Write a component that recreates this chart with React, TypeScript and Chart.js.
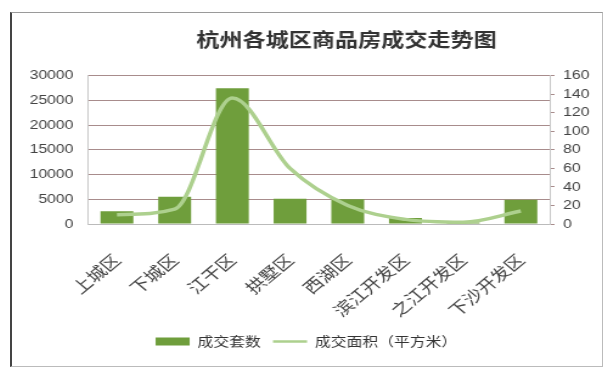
import React, { useEffect, useRef } from "react";
import { Chart, registerables } from "chart.js";

Chart.register(...registerables);

const chartTitle = "杭州各城区商品房成交走势图";
const categories = ["上城区", "下城区", "江干区", "拱墅区", "西湖区", "滨江开发区", "之江开发区", "下沙开发区"];
const barLabel = "成交套数";
const lineLabel = "成交面积（平方米）";
const dealCounts = [2600, 5500, 27500, 5100, 5000, 1200, 300, 4900];
const dealAreas = [10, 16, 136, 60, 20, 5, 2, 14];
const leftAxis = { min: 0, max: 30000, step: 5000 };
const rightAxis = { min: 0, max: 160, step: 20 };

const BAR_COLOR = "#6f9e3c";
const LINE_COLOR = "#add08e";
const GRID_COLOR = "#a88c8c";
const CJK = "'Noto Sans CJK SC', 'Noto Sans', sans-serif";
const NUM = "'Liberation Sans', Arial, sans-serif";

const INNER_W = 485;
const INNER_H = 353;
const CSS_W = 590;

const titleShift = {
  id: "titleShift",
  afterLayout(chart: any) {
    const t = chart.titleBlock;
    if (t) {
      t.left += 33;
      t.right += 33;
    }
  },
};

export default function App() {
  const ref = useRef<HTMLCanvasElement | null>(null);

  useEffect(() => {
    if (!ref.current) return;
    const chart = new Chart(ref.current, {
      type: "bar",
      data: {
        labels: categories,
        datasets: [
          {
            type: "bar",
            label: barLabel,
            data: dealCounts,
            backgroundColor: BAR_COLOR,
            borderWidth: 0,
            barPercentage: 0.57,
            categoryPercentage: 1,
            yAxisID: "y",
            order: 2,
          } as any,
          {
            type: "line",
            label: lineLabel,
            data: dealAreas,
            borderColor: LINE_COLOR,
            backgroundColor: LINE_COLOR,
            borderWidth: 3.5,
            pointRadius: 0,
            tension: 0.4,
            cubicInterpolationMode: "monotone",
            yAxisID: "y1",
            order: 1,
          } as any,
        ],
      },
      options: {
        responsive: false,
        animation: false,
        devicePixelRatio: 1,
        layout: { padding: { left: 2.4, right: 3.3, top: 0, bottom: 8 } },
        plugins: {
          title: {
            display: true,
            text: chartTitle,
            color: "#333333",
            font: { family: CJK, size: 19, weight: "bold" },
            padding: { top: 15, bottom: 25 },
          },
          legend: {
            position: "bottom",
            labels: {
              usePointStyle: true,
              pointStyleWidth: 28,
              boxHeight: 8,
              padding: 10,
              color: "#333333",
              font: { family: CJK, size: 13 },
              generateLabels: (c: any) =>
                c.data.datasets.map((ds: any, i: number) => ({
                  text: ds.label,
                  datasetIndex: i,
                  fillStyle: i === 0 ? BAR_COLOR : "rgba(0,0,0,0)",
                  strokeStyle: i === 0 ? BAR_COLOR : LINE_COLOR,
                  lineWidth: i === 0 ? 0 : 2.5,
                  pointStyle: i === 0 ? "rect" : "line",
                  hidden: false,
                  fontColor: "#333333",
                })),
            },
          },
          tooltip: { enabled: false },
        },
        scales: {
          x: {
            grid: { display: false },
            border: { color: "#bbbbbb" },
            ticks: {
              maxRotation: 45,
              minRotation: 45,
              autoSkip: false,
              padding: 18,
              color: "#444444",
              font: { family: CJK, size: 16 },
            },
            afterFit: (scale: any) => {
              scale.height = 101;
              scale.paddingLeft = 0;
              scale.paddingRight = 0;
            },
          },
          y: {
            position: "left",
            min: leftAxis.min,
            max: leftAxis.max,
            ticks: {
              stepSize: leftAxis.step,
              autoSkip: false,
              padding: 12,
              color: "#444444",
              font: { family: NUM, size: 13 },
              callback: (v: any) => String(v),
            },
            grid: { color: GRID_COLOR, drawTicks: false },
            border: { color: "#c8c8c8" },
          },
          y1: {
            position: "right",
            min: rightAxis.min,
            max: rightAxis.max,
            ticks: {
              stepSize: rightAxis.step,
              autoSkip: false,
              padding: 7,
              color: "#444444",
              font: { family: NUM, size: 13 },
              callback: (v: any) => String(v),
            },
            grid: { drawOnChartArea: false, color: GRID_COLOR, tickLength: 4 },
            border: { color: "#c8c8c8" },
          },
        },
      },
      plugins: [titleShift],
    } as any);
    return () => chart.destroy();
  }, []);

  return (
    <div
      style={{
        position: "absolute",
        left: 10,
        top: 12,
        width: CSS_W,
        height: INNER_H,
        borderTop: "1px solid #9a9a9a",
        borderBottom: "1px solid #bbbbbb",
        borderRight: "1px solid #bbbbbb",
        borderLeft: "2px solid #444444",
        background: "#ffffff",
      }}
    >
      <canvas
        ref={ref}
        width={INNER_W}
        height={INNER_H}
        style={{ width: CSS_W + "px", height: INNER_H + "px", display: "block" }}
      />
    </div>
  );
}
